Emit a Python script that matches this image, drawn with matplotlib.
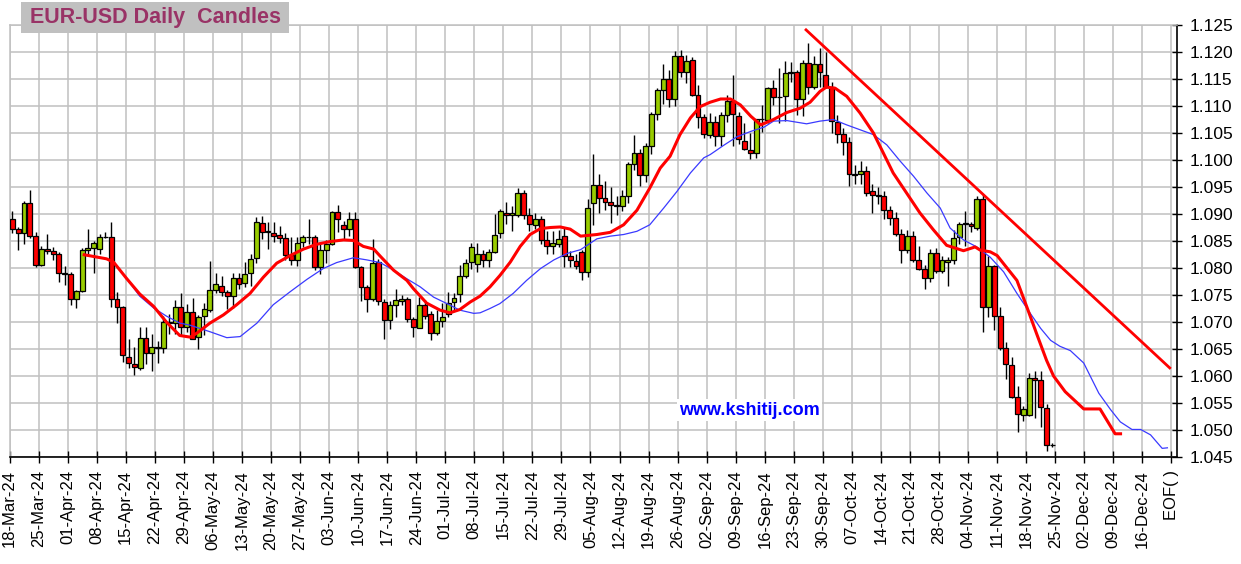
import matplotlib
matplotlib.use("Agg")
import matplotlib.pyplot as plt
from matplotlib.patches import Rectangle

plt.rcParams['font.family'] = ['Liberation Sans', 'DejaVu Sans']

tick_labels = ["18-Mar-24", "25-Mar-24", "01-Apr-24", "08-Apr-24", "15-Apr-24", "22-Apr-24",
               "29-Apr-24", "06-May-24", "13-May-24", "20-May-24", "27-May-24", "03-Jun-24",
               "10-Jun-24", "17-Jun-24", "24-Jun-24", "01-Jul-24", "08-Jul-24", "15-Jul-24",
               "22-Jul-24", "29-Jul-24", "05-Aug-24", "12-Aug-24", "19-Aug-24", "26-Aug-24",
               "02-Sep-24", "09-Sep-24", "16-Sep-24", "23-Sep-24", "30-Sep-24", "07-Oct-24",
               "14-Oct-24", "21-Oct-24", "28-Oct-24", "04-Nov-24", "11-Nov-24", "18-Nov-24",
               "25-Nov-24", "02-Dec-24", "09-Dec-24", "16-Dec-24", "EOF( )"]

y_ticks = [1.045, 1.050, 1.055, 1.060, 1.065, 1.070, 1.075, 1.080, 1.085, 1.090,
           1.095, 1.100, 1.105, 1.110, 1.115, 1.120, 1.125]

opens = [1.0890, 1.0873, 1.0865, 1.0921, 1.0860, 1.0806, 1.0835, 1.0832, 1.0826, 1.0790,
         1.0789, 1.0743, 1.0757, 1.0834, 1.0837, 1.0836, 1.0858, 1.0857, 1.0743, 1.0727,
         1.0635, 1.0623, 1.0614, 1.0671, 1.0643, 1.0654, 1.0651, 1.0700, 1.0698, 1.0728,
         1.0691, 1.0718, 1.0673, 1.0711, 1.0722, 1.0760, 1.0767, 1.0755, 1.0748, 1.0781,
         1.0773, 1.0790, 1.0818, 1.0883, 1.0867, 1.0865, 1.0861, 1.0855, 1.0824, 1.0815,
         1.0849, 1.0857, 1.0857, 1.0802, 1.0833, 1.0844, 1.0903, 1.0880, 1.0872, 1.0890,
         1.0801, 1.0765, 1.0743, 1.0812, 1.0737, 1.0703, 1.0731, 1.0739, 1.0743, 1.0705,
         1.0688, 1.0732, 1.0714, 1.0680, 1.0702, 1.0715, 1.0737, 1.0752, 1.0786, 1.0811,
         1.0808, 1.0825, 1.0814, 1.0829, 1.0865, 1.0902, 1.0898, 1.0898, 1.0938, 1.0898,
         1.0879, 1.0890, 1.0851, 1.0840, 1.0845, 1.0860, 1.0823, 1.0813, 1.0830, 1.0793,
         1.0920, 1.0953, 1.0930, 1.0923, 1.0916, 1.0914, 1.0933, 1.0993, 1.1013, 1.0973,
         1.1025, 1.1085, 1.1130, 1.1150, 1.1113, 1.1192, 1.1163, 1.1185, 1.1120, 1.1079,
         1.1047, 1.1071, 1.1045, 1.1084, 1.1110, 1.1081, 1.1036, 1.1019, 1.1013, 1.1076,
         1.1075, 1.1134, 1.1116, 1.1118, 1.1162, 1.1163, 1.1113, 1.1180, 1.1135, 1.1177,
         1.1158, 1.1135, 1.1070, 1.1049, 1.1033, 1.0974, 1.0974, 1.0979, 1.0942, 1.0936,
         1.0933, 1.0908, 1.0892, 1.0863, 1.0833, 1.0859, 1.0815, 1.0799, 1.0782, 1.0828,
         1.0795, 1.0812, 1.0814, 1.0857, 1.0882, 1.0882, 1.0875, 1.0927, 1.0727, 1.0804,
         1.0711, 1.0652, 1.0620, 1.0561, 1.0527, 1.0527, 1.0597, 1.0593, 1.0541, 1.0472]

highs = [1.0906, 1.0876, 1.0924, 1.0944, 1.0866, 1.0840, 1.0863, 1.0839, 1.0830, 1.0804,
         1.0793, 1.0760, 1.0837, 1.0872, 1.0850, 1.0863, 1.0867, 1.0885, 1.0756, 1.0729,
         1.0668, 1.0654, 1.0691, 1.0690, 1.0677, 1.0664, 1.0712, 1.0714, 1.0740, 1.0753,
         1.0734, 1.0745, 1.0713, 1.0735, 1.0813, 1.0790, 1.0786, 1.0760, 1.0790, 1.0791,
         1.0811, 1.0825, 1.0895, 1.0896, 1.0886, 1.0886, 1.0877, 1.0864, 1.0858, 1.0858,
         1.0862, 1.0890, 1.0862, 1.0849, 1.0852, 1.0905, 1.0917, 1.0887, 1.0903, 1.0903,
         1.0803, 1.0768, 1.0853, 1.0817, 1.0742, 1.0738, 1.0762, 1.0750, 1.0746, 1.0710,
         1.0746, 1.0741, 1.0720, 1.0722, 1.0735, 1.0756, 1.0753, 1.0805, 1.0816, 1.0846,
         1.0846, 1.0833, 1.0835, 1.0900, 1.0910, 1.0922, 1.0915, 1.0949, 1.0945, 1.0911,
         1.0902, 1.0896, 1.0868, 1.0869, 1.0871, 1.0876, 1.0832, 1.0825, 1.0834, 1.0928,
         1.1011, 1.0975, 1.0962, 1.0950, 1.0934, 1.0944, 1.0996, 1.1047, 1.1020, 1.1032,
         1.1088, 1.1133, 1.1177, 1.1167, 1.1201, 1.1203, 1.1195, 1.1190, 1.1139, 1.1085,
         1.1087, 1.1081, 1.1089, 1.1121, 1.1157, 1.1088, 1.1068, 1.1050, 1.1076, 1.1102,
         1.1136, 1.1149, 1.1170, 1.1183, 1.1181, 1.1167, 1.1185, 1.1217, 1.1193, 1.1207,
         1.1200, 1.1144, 1.1084, 1.1059, 1.1042, 1.0990, 1.0999, 1.0988, 1.0956, 1.0950,
         1.0943, 1.0915, 1.0904, 1.0873, 1.0871, 1.0869, 1.0840, 1.0805, 1.0835, 1.0837,
         1.0823, 1.0821, 1.0871, 1.0886, 1.0906, 1.0886, 1.0934, 1.0937, 1.0823, 1.0805,
         1.0728, 1.0663, 1.0635, 1.0582, 1.0545, 1.0606, 1.0609, 1.0610, 1.0549, 1.0476]

lows = [1.0865, 1.0834, 1.0845, 1.0856, 1.0802, 1.0803, 1.0826, 1.0815, 1.0774, 1.0768,
        1.0732, 1.0726, 1.0755, 1.0825, 1.0790, 1.0826, 1.0855, 1.0728, 1.0698, 1.0625,
        1.0615, 1.0601, 1.0611, 1.0623, 1.0609, 1.0624, 1.0643, 1.0678, 1.0677, 1.0675,
        1.0682, 1.0668, 1.0650, 1.0676, 1.0718, 1.0753, 1.0749, 1.0724, 1.0725, 1.0762,
        1.0764, 1.0766, 1.0810, 1.0854, 1.0836, 1.0849, 1.0846, 1.0815, 1.0806, 1.0804,
        1.0839, 1.0845, 1.0796, 1.0789, 1.0810, 1.0842, 1.0867, 1.0852, 1.0859, 1.0800,
        1.0738, 1.0719, 1.0738, 1.0732, 1.0668, 1.0687, 1.0710, 1.0731, 1.0700, 1.0672,
        1.0688, 1.0706, 1.0666, 1.0676, 1.0690, 1.0710, 1.0720, 1.0737, 1.0782, 1.0798,
        1.0792, 1.0802, 1.0802, 1.0827, 1.0856, 1.0881, 1.0869, 1.0895, 1.0890, 1.0868,
        1.0873, 1.0845, 1.0825, 1.0826, 1.0838, 1.0802, 1.0801, 1.0798, 1.0778, 1.0783,
        1.0880, 1.0902, 1.0908, 1.0883, 1.0899, 1.0906, 1.0921, 1.0982, 1.0951, 1.0960,
        1.1012, 1.1075, 1.1103, 1.1099, 1.1100, 1.1154, 1.1142, 1.1118, 1.1059, 1.1040,
        1.1040, 1.1026, 1.1026, 1.1070, 1.1026, 1.1030, 1.1018, 1.1002, 1.1003, 1.1051,
        1.1068, 1.1101, 1.1068, 1.1072, 1.1144, 1.1084, 1.1082, 1.1122, 1.1132, 1.1135,
        1.1133, 1.1050, 1.1031, 1.1010, 1.0951, 1.0955, 1.0955, 1.0934, 1.0902, 1.0919,
        1.0890, 1.0880, 1.0859, 1.0810, 1.0828, 1.0811, 1.0796, 1.0762, 1.0775, 1.0791,
        1.0790, 1.0767, 1.0808, 1.0845, 1.0840, 1.0866, 1.0870, 1.0681, 1.0709, 1.0686,
        1.0648, 1.0595, 1.0560, 1.0496, 1.0517, 1.0525, 1.0522, 1.0506, 1.0462, 1.0468]

closes = [1.0873, 1.0865, 1.0921, 1.0860, 1.0805, 1.0835, 1.0832, 1.0826, 1.0790, 1.0788,
          1.0743, 1.0757, 1.0834, 1.0837, 1.0847, 1.0858, 1.0857, 1.0743, 1.0727, 1.0638,
          1.0624, 1.0616, 1.0671, 1.0643, 1.0654, 1.0651, 1.0700, 1.0698, 1.0728, 1.0691,
          1.0718, 1.0669, 1.0710, 1.0724, 1.0760, 1.0770, 1.0756, 1.0748, 1.0781, 1.0770,
          1.0788, 1.0816, 1.0885, 1.0867, 1.0869, 1.0860, 1.0855, 1.0824, 1.0815, 1.0847,
          1.0857, 1.0858, 1.0802, 1.0833, 1.0844, 1.0903, 1.0890, 1.0872, 1.0890, 1.0801,
          1.0765, 1.0743, 1.0810, 1.0738, 1.0703, 1.0731, 1.0740, 1.0743, 1.0705, 1.0691,
          1.0732, 1.0711, 1.0680, 1.0702, 1.0709, 1.0735, 1.0745, 1.0786, 1.0810, 1.0838,
          1.0825, 1.0814, 1.0829, 1.0862, 1.0906, 1.0898, 1.0901, 1.0938, 1.0898, 1.0882,
          1.0890, 1.0851, 1.0840, 1.0846, 1.0854, 1.0823, 1.0814, 1.0803, 1.0793, 1.0911,
          1.0953, 1.0930, 1.0923, 1.0916, 1.0914, 1.0933, 1.0993, 1.1013, 1.0973, 1.1025,
          1.1085, 1.1130, 1.1150, 1.1113, 1.1192, 1.1163, 1.1183, 1.1120, 1.1079, 1.1048,
          1.1071, 1.1045, 1.1083, 1.1110, 1.1085, 1.1038, 1.1020, 1.1013, 1.1076, 1.1076,
          1.1133, 1.1117, 1.1117, 1.1162, 1.1163, 1.1113, 1.1180, 1.1135, 1.1177, 1.1163,
          1.1136, 1.1072, 1.1049, 1.1033, 1.0974, 1.0973, 1.0979, 1.0939, 1.0936, 1.0934,
          1.0908, 1.0892, 1.0863, 1.0833, 1.0859, 1.0815, 1.0799, 1.0782, 1.0828, 1.0795,
          1.0814, 1.0815, 1.0856, 1.0882, 1.0884, 1.0878, 1.0928, 1.0727, 1.0804, 1.0711,
          1.0652, 1.0622, 1.0561, 1.0529, 1.0538, 1.0597, 1.0593, 1.0542, 1.0472, 1.0473]

red_ma_x = [12.1, 16.2, 17.4, 19.7, 21.9, 24.3, 26.5, 28.8, 30.6, 31.7, 34.0, 36.3, 38.6,
            40.9, 43.2, 45.5, 47.8, 50.1, 52.4, 54.7, 57.0, 58.7, 60.4, 62.2, 63.3, 65.6,
            67.9, 69.0, 71.3, 73.6, 75.3, 77.0, 78.8, 80.5, 82.2, 83.9, 85.7, 87.4, 89.1,
            90.9, 92.6, 94.3, 96.0, 97.8, 100.6, 102.9, 105.2, 107.5, 109.7, 111.5, 113.2,
            114.9, 116.7, 118.4, 120.1, 121.9, 123.6, 125.3, 127.1, 128.8, 131.0, 133.3,
            135.6, 137.3, 139.0, 140.1, 141.6, 143.6, 145.9, 148.2, 149.9, 151.6, 153.9,
            156.2, 158.5, 160.8, 163.7, 165.7, 166.6, 168.3, 169.5, 170.6, 172.9, 174.6,
            176.3, 178.0, 179.2, 181.2, 184.4, 187.2, 189.8, 191.0]
red_ma_y = [1.0825, 1.0817, 1.0811, 1.0780, 1.0752, 1.0729, 1.0700, 1.0675, 1.0672, 1.0679,
            1.0698, 1.0713, 1.0732, 1.0753, 1.0783, 1.0809, 1.0823, 1.0835, 1.0844, 1.0849,
            1.0852, 1.0851, 1.0840, 1.0835, 1.0822, 1.0796, 1.0777, 1.0762, 1.0735, 1.0722,
            1.0717, 1.0723, 1.0737, 1.0748, 1.0765, 1.0786, 1.0811, 1.0840, 1.0862, 1.0873,
            1.0875, 1.0876, 1.0872, 1.0859, 1.0862, 1.0866, 1.0880, 1.0907, 1.0948, 1.0985,
            1.1007, 1.1047, 1.1078, 1.1099, 1.1107, 1.1113, 1.1113, 1.1102, 1.1081, 1.1065,
            1.1075, 1.1088, 1.1096, 1.1107, 1.1127, 1.1135, 1.1133, 1.1118, 1.1087, 1.1050,
            1.1013, 1.0976, 1.0939, 1.0902, 1.0871, 1.0842, 1.0832, 1.0839, 1.0833, 1.0830,
            1.0823, 1.0808, 1.0777, 1.0728, 1.0678, 1.0629, 1.0600, 1.0571, 1.0539, 1.0539,
            1.0493, 1.0493]

blue_ma_x = [19.7, 21.9, 24.3, 26.5, 28.8, 30.6, 34.0, 36.9, 39.2, 42.1, 44.9, 47.8, 50.7,
             53.5, 55.8, 58.7, 61.0, 63.3, 65.6, 67.9, 70.2, 72.5, 74.8, 77.0, 79.4, 80.5,
             82.2, 83.9, 86.2, 88.5, 90.9, 93.2, 95.5, 97.8, 100.6, 102.9, 105.2, 107.5,
             109.7, 112.1, 114.4, 116.7, 119.0, 120.1, 122.4, 124.7, 127.1, 129.4, 131.0,
             133.3, 136.7, 139.0, 141.3, 143.6, 145.9, 148.2, 150.5, 152.8, 155.1, 157.4,
             159.7, 161.4, 163.7, 166.0, 168.3, 170.6, 172.9, 175.2, 177.0, 178.7, 180.3,
             182.1, 184.4, 187.0, 189.0, 190.7, 192.7, 194.2, 195.9, 197.9, 198.8]
blue_ma_y = [1.0780, 1.0748, 1.0726, 1.0711, 1.0698, 1.0694, 1.0682, 1.0671, 1.0673, 1.0698,
             1.0732, 1.0756, 1.0779, 1.0799, 1.0810, 1.0819, 1.0815, 1.0810, 1.0796, 1.0780,
             1.0765, 1.0746, 1.0734, 1.0722, 1.0716, 1.0717, 1.0725, 1.0734, 1.0753, 1.0777,
             1.0799, 1.0815, 1.0827, 1.0834, 1.0854, 1.0859, 1.0862, 1.0868, 1.0880, 1.0911,
             1.0942, 1.0976, 1.1004, 1.1010, 1.1027, 1.1043, 1.1053, 1.1061, 1.1072, 1.1073,
             1.1067, 1.1072, 1.1075, 1.1065, 1.1056, 1.1047, 1.1028, 1.0998, 1.0970, 1.0939,
             1.0911, 1.0874, 1.0852, 1.0839, 1.0820, 1.0793, 1.0753, 1.0716, 1.0688, 1.0666,
             1.0655, 1.0647, 1.0624, 1.0568, 1.0538, 1.0515, 1.0501, 1.0501, 1.0491, 1.0466,
             1.0467]

trend_x = [136.6, 199.2]
trend_y = [1.1241, 1.0615]

W, H = 1241, 564
fig = plt.figure(figsize=(W / 100, H / 100), dpi=100)
fig.patch.set_facecolor('white')
ax = fig.add_axes([9.5 / W, 1 - 457 / H, (1176.7 - 9.5) / W, (457 - 25) / H])

grid_c = '#c0c0c0'
tick_pos = [5 * k - 0.5 for k in range(len(tick_labels))]

# candles
for i, (o, h, l, c) in enumerate(zip(opens, highs, lows, closes)):
    ax.vlines(i, l, h, color='black', lw=1.0, zorder=3)
    col = '#99cc00' if c >= o else '#ff0000'
    ax.add_patch(Rectangle((i - 0.42, min(o, c)), 0.84, abs(c - o),
                           facecolor=col, edgecolor='black', lw=0.9, zorder=4))

ax.plot(blue_ma_x, blue_ma_y, color='#3a3aff', lw=0.9, zorder=5)
ax.plot(red_ma_x, red_ma_y, color='#ff0000', lw=2.2, zorder=6, solid_capstyle='butt')
ax.plot(trend_x, trend_y, color='#ff0000', lw=2.0, zorder=6)

ax.text(126.8, 1.0537, "www.kshitij.com", color='#0000ff', fontsize=13, fontweight='bold',
        ha='center', va='center', zorder=7,
        bbox=dict(facecolor='white', edgecolor='none', pad=1.5))

ax.set_xlim(-0.5, 200.4)
ax.set_ylim(1.045, 1.125)
ax.set_xticks(tick_pos)
ax.set_xticklabels(tick_labels, rotation=90, fontsize=12)
ax.set_yticks(y_ticks)
ax.set_yticklabels([f"{v:.3f}" for v in y_ticks], fontsize=12.5)
ax.yaxis.tick_right()
ax.tick_params(axis='x', direction='inout', length=8.6, width=1.0, pad=5, colors='black')
ax.tick_params(axis='y', direction='inout', length=7.2, width=1.0, pad=6, colors='black')
ax.grid(True, color=grid_c, lw=1.1, zorder=0)
ax.set_axisbelow(True)
for s in ['left', 'top']:
    ax.spines[s].set_color(grid_c)
    ax.spines[s].set_linewidth(1.1)
for s in ['bottom', 'right']:
    ax.spines[s].set_color('black')
    ax.spines[s].set_linewidth(1.2)

# title box
fig.patches.append(Rectangle((20.7 / W, 1 - 33.3 / H), (289.3 - 20.7) / W, 31.6 / H,
                             transform=fig.transFigure, facecolor='#c0c0c0',
                             edgecolor='none', zorder=5))
fig.text(155 / W, 1 - 17.5 / H, "EUR-USD Daily  Candles", ha='center', va='center',
         color='#993366', fontsize=15.5, fontweight='bold', zorder=6)

fig.savefig("out.png", dpi=100, facecolor='white')
